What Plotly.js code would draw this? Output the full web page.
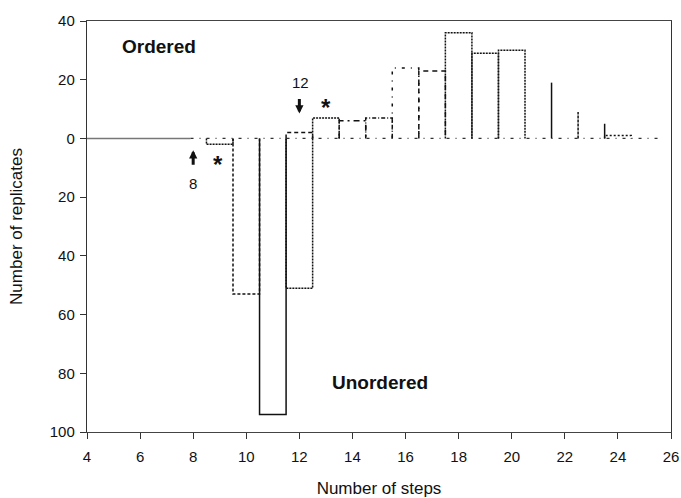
<!DOCTYPE html>
<html>
<head>
<meta charset="utf-8">
<script src="https://cdn.plot.ly/plotly-3.0.1.min.js"></script>
<style>html,body{margin:0;padding:0;background:#fff;}#chart{width:681px;height:498px;}</style>
</head>
<body>
<div id="chart"></div>
<script>
// Number of steps (bin centres)
const steps     = [8, 9, 10, 11, 12, 13, 14, 15, 16, 17, 18, 19, 20, 21, 22, 23, 24, 25];
// Replicates, ordered analysis (drawn above zero)
const ordered   = [0, 0, 0, 0, 2, 7, 6, 7, 24, 23, 36, 29, 30, 19, 9, 5, 1, 0];
// Replicates, unordered analysis (drawn below zero)
const unordered = [0, 2, 53, 94, 51, 0, 0, 0, 0, 0, 0, 0, 0, 0, 0, 0, 0, 0];
// Axis ticks
const xTicks = [4, 6, 8, 10, 12, 14, 16, 18, 20, 22, 24, 26];
const yTicks = [40, 20, 0, -20, -40, -60, -80, -100];
const yTickText = yTicks.map(v => String(Math.abs(v)));

// Line style per bin (scanned outlines are a mix of dotted / dashed / solid)
const orderedDash = {12: "4px,3px", 13: "2px,1px", 14: "6px,4px,2px,4px", 15: "4px,2px,1px,2px",
  16: "3px,6px,1px,6px", 17: "5px,4px", 18: "2px,1px", 19: "2px,1px", 20: "2px,1px",
  21: "solid", 22: "3px,1px", 23: "solid", 24: "2px,2px"};
const orderedSpike = {21: true, 22: true, 23: true};
const unorderedDash = {9: "2px,1px", 10: "3px,2px", 11: "solid", 12: "2px,1px"};

const traces = [];
function addBar(s, v, dash, spike) {
  if (v === 0) return;
  let xs, ys;
  if (spike) { xs = [s + 0.5, s + 0.5]; ys = [0, v]; }
  else { xs = [s - 0.5, s - 0.5, s + 0.5, s + 0.5]; ys = [0, v, v, 0]; }
  traces.push({type: "scatter", mode: "lines", x: xs, y: ys, hoverinfo: "skip",
    line: {color: "#111", width: 1.5, dash: dash || "solid"}, showlegend: false});
}
// baseline
traces.push({type: "scatter", mode: "lines", x: [4, 7.9], y: [0, 0], line: {color: "#777", width: 1.5}, showlegend: false, hoverinfo: "skip"});
traces.push({type: "scatter", mode: "lines", x: [7.9, steps[steps.length - 1] + 0.5], y: [0, 0], line: {color: "#333", width: 1.3, dash: "3px,6px,1px,6px"}, showlegend: false, hoverinfo: "skip"});
steps.forEach((s, i) => {
  addBar(s, ordered[i], orderedDash[s], orderedSpike[s]);
  addBar(s, -unordered[i], unorderedDash[s], false);
});

const font = "Liberation Sans, Arial, sans-serif";
const layout = {
  width: 681, height: 498,
  margin: {l: 87, r: 10, t: 21, b: 66},
  paper_bgcolor: "#fff", plot_bgcolor: "#fff",
  showlegend: false,
  font: {family: font, color: "#111", size: 15},
  xaxis: {
    range: [4, 26], tickvals: xTicks, ticktext: xTicks.map(String),
    ticks: "outside", ticklen: 6, tickcolor: "#333", showgrid: false, zeroline: false,
    showline: true, linecolor: "#444", linewidth: 1.2, mirror: true,
    ticklabelstandoff: 5,
    tickfont: {family: font, size: 15, color: "#111"},
    title: {text: "Number of steps", font: {family: font, size: 17, color: "#111"}, standoff: 20}
  },
  yaxis: {
    range: [-100, 40], tickvals: yTicks, ticktext: yTickText,
    ticks: "outside", ticklen: 6, tickcolor: "#333", showgrid: false, zeroline: false,
    showline: true, linecolor: "#333", linewidth: 1.2, mirror: true,
    ticklabelstandoff: 2,
    tickfont: {family: font, size: 15, color: "#111"},
    title: {text: "Number of replicates", font: {family: font, size: 17, color: "#111"}, standoff: 22}
  },
  annotations: [
    {x: 5.25, y: 31.3, xanchor: "left", yanchor: "middle", text: "<b>Ordered</b>", showarrow: false, font: {family: font, size: 19, color: "#111"}},
    {x: 13.15, y: -83, xanchor: "left", yanchor: "middle", text: "<b>Unordered</b>", showarrow: false, font: {family: font, size: 19, color: "#111"}},
    {x: 12.05, y: 19, text: "12", showarrow: false, font: {family: font, size: 15, color: "#111"}},
    {x: 8.0, y: -15.5, text: "8", showarrow: false, font: {family: font, size: 15, color: "#111"}},
    {x: 13.0, y: 10.5, text: "<b>*</b>", showarrow: false, font: {family: font, size: 24, color: "#111"}},
    {x: 8.95, y: -9, text: "<b>*</b>", showarrow: false, font: {family: font, size: 24, color: "#111"}},
    {x: 12.0, y: 8.5, ax: 0, ay: -16, text: "", showarrow: true, arrowhead: 2, arrowsize: 0.55, arrowwidth: 3, arrowcolor: "#111", axref: "pixel", ayref: "pixel"},
    {x: 8.0, y: -4, ax: 0, ay: 16, text: "", showarrow: true, arrowhead: 2, arrowsize: 0.55, arrowwidth: 3, arrowcolor: "#111", axref: "pixel", ayref: "pixel"}
  ]
};
Plotly.newPlot("chart", traces, layout, {displayModeBar: false, staticPlot: true});
</script>
</body>
</html>
